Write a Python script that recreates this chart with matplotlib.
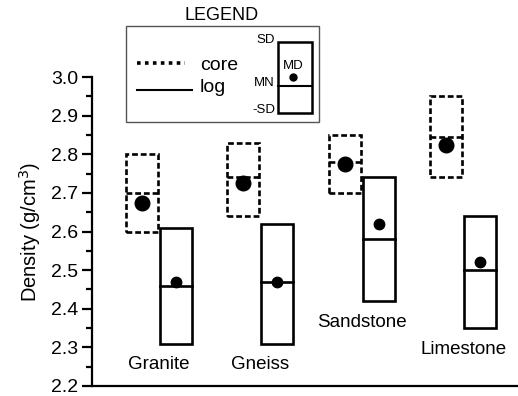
import numpy as np
import matplotlib.pyplot as plt
from matplotlib.patches import Rectangle
from matplotlib.ticker import MultipleLocator

plt.rcParams['font.family'] = ['Liberation Sans', 'DejaVu Sans']

rocks = ['Granite', 'Gneiss', 'Sandstone', 'Limestone']

# core samples: mean - SD, mean + SD, median, mean
core_low = [2.60, 2.64, 2.70, 2.74]
core_high = [2.80, 2.83, 2.85, 2.95]
core_median = [2.70, 2.74, 2.78, 2.845]
core_mean = [2.675, 2.725, 2.775, 2.823]

# log data
log_low = [2.31, 2.31, 2.42, 2.35]
log_high = [2.61, 2.62, 2.74, 2.64]
log_median = [2.46, 2.47, 2.58, 2.50]
log_mean = [2.47, 2.47, 2.62, 2.52]

fig = plt.figure(figsize=(5.18, 3.96), dpi=100)
ax = fig.add_axes([92 / 518, 10 / 396, 426 / 518, 309 / 396])

pos = np.arange(1, len(rocks) + 1)
off = 0.168
w = 0.315
lw = 1.9
dash = (0, (2.2, 1.1))


def draw_box(x, lo, hi, med, mean, ls, ms):
    ax.add_patch(Rectangle((x - w / 2, lo), w, hi - lo, fill=False,
                           lw=lw, ls=ls, ec='black', joinstyle='miter'))
    ax.plot([x - w / 2, x + w / 2], [med, med], color='black', lw=lw, ls=ls)
    ax.plot(x, mean, 'o', color='black', ms=ms)


for i, p in enumerate(pos):
    draw_box(p - off, core_low[i], core_high[i], core_median[i], core_mean[i], dash, 10.5)
    draw_box(p + off, log_low[i], log_high[i], log_median[i], log_mean[i], '-', 7.5)
    ax.text(p, log_low[i] - 0.055, rocks[i], ha='center', va='center', fontsize=13.5)

ax.set_xlim(0.34, 4.54)
ax.set_ylim(2.2, 3.0)
ax.yaxis.set_major_locator(MultipleLocator(0.1))
ax.yaxis.set_minor_locator(MultipleLocator(0.05))
ax.yaxis.set_major_formatter(plt.FormatStrFormatter('%.1f'))
ax.tick_params(axis='y', which='major', direction='out', length=7, width=1.6,
               labelsize=14, pad=3)
ax.tick_params(axis='y', which='minor', direction='out', length=4, width=1.6)
ax.set_xticks([])
for s in ['top', 'right']:
    ax.spines[s].set_visible(False)
ax.spines['left'].set_linewidth(1.6)
ax.spines['bottom'].set_linewidth(1.6)
ax.set_ylabel('Density (g/cm$^3$)', fontsize=14.5, labelpad=6)

# legend panel, drawn in pixel coordinates on an overlay
lg = fig.add_axes([0, 0, 1, 1], facecolor='none')
lg.set_xlim(0, 518)
lg.set_ylim(396, 0)
lg.axis('off')
lg.text(222, 15, 'LEGEND', ha='center', va='center', fontsize=13)
lg.add_patch(Rectangle((126, 26), 193, 96, fill=False, ec='#555555', lw=1))
lg.plot([137, 185], [63, 63], color='black', lw=2.6, ls=(0, (1, 1.2)))
lg.plot([137, 192], [90, 90], color='black', lw=1.5)
lg.text(200, 65, 'core', ha='left', va='center', fontsize=14)
lg.text(200, 87, 'log', ha='left', va='center', fontsize=14)
lg.add_patch(Rectangle((278, 42), 34, 71, fill=False, ec='black', lw=1.8))
lg.plot([278, 312], [86, 86], color='black', lw=1.5)
lg.plot(293, 77, 'o', color='black', ms=5)
lg.text(293, 66, 'MD', ha='center', va='center', fontsize=9.5)
lg.text(275, 40, 'SD', ha='right', va='center', fontsize=9.5)
lg.text(275, 83, 'MN', ha='right', va='center', fontsize=9.5)
lg.text(275, 110, '-SD', ha='right', va='center', fontsize=9.5)

fig.savefig('out.png', dpi=100)
